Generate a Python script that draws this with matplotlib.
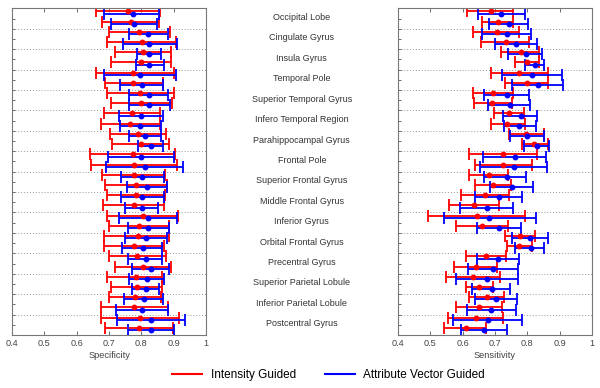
import matplotlib
matplotlib.use('Agg')
import matplotlib.pyplot as plt
import numpy as np

plt.rcParams['font.family'] = ['Liberation Sans', 'DejaVu Sans']

regions = ['Occipital Lobe', 'Cingulate Gyrus', 'Insula Gyrus', 'Temporal Pole',
           'Superior Temporal Gyrus', 'Infero Temporal Region', 'Parahippocampal Gyrus',
           'Frontal Pole', 'Superior Frontal Gyrus', 'Middle Frontal Gyrus',
           'Inferior Gyrus', 'Orbital Frontal Gyrus', 'Precentral Gyrus',
           'Superior Parietal Lobule', 'Inferior Parietal Lobule', 'Postcentral Gyrus']

# Specificity, two rows per region (low / mean / high)
spec_int_low = [0.659, 0.679, 0.699, 0.695, 0.720, 0.705, 0.659, 0.687, 0.693, 0.705, 0.685,
                0.675, 0.703, 0.709, 0.641, 0.644, 0.679, 0.687, 0.693, 0.682, 0.693, 0.699,
                0.685, 0.685, 0.701, 0.719, 0.693, 0.705, 0.700, 0.674, 0.674, 0.689]
spec_int_mean = [0.760, 0.768, 0.794, 0.802, 0.806, 0.799, 0.775, 0.775, 0.797, 0.800, 0.770,
                 0.765, 0.791, 0.799, 0.773, 0.776, 0.776, 0.784, 0.784, 0.777, 0.804, 0.794,
                 0.791, 0.777, 0.788, 0.806, 0.782, 0.786, 0.781, 0.778, 0.797, 0.794]
spec_int_high = [0.858, 0.855, 0.889, 0.907, 0.892, 0.893, 0.900, 0.868, 0.902, 0.894, 0.858,
                 0.858, 0.875, 0.886, 0.904, 0.911, 0.874, 0.879, 0.874, 0.871, 0.912, 0.887,
                 0.887, 0.870, 0.875, 0.892, 0.863, 0.864, 0.861, 0.884, 0.916, 0.899]
spec_att_low = [0.686, 0.705, 0.762, 0.742, 0.786, 0.782, 0.685, 0.735, 0.763, 0.763, 0.731,
                0.734, 0.762, 0.789, 0.697, 0.692, 0.736, 0.755, 0.736, 0.749, 0.730, 0.760,
                0.749, 0.741, 0.758, 0.771, 0.763, 0.772, 0.745, 0.721, 0.726, 0.760]
spec_att_mean = [0.773, 0.777, 0.821, 0.825, 0.824, 0.824, 0.797, 0.801, 0.823, 0.824, 0.799,
                 0.797, 0.812, 0.829, 0.798, 0.812, 0.802, 0.818, 0.803, 0.801, 0.820, 0.822,
                 0.814, 0.804, 0.813, 0.829, 0.818, 0.815, 0.808, 0.802, 0.831, 0.829]
spec_att_high = [0.856, 0.849, 0.882, 0.910, 0.862, 0.869, 0.908, 0.866, 0.881, 0.889, 0.866,
                 0.860, 0.861, 0.868, 0.901, 0.929, 0.869, 0.879, 0.871, 0.853, 0.911, 0.887,
                 0.878, 0.865, 0.865, 0.887, 0.869, 0.856, 0.868, 0.883, 0.935, 0.901]

# Sensitivity
sens_int_low = [0.615, 0.660, 0.633, 0.658, 0.719, 0.763, 0.688, 0.732, 0.631, 0.634, 0.697,
                0.687, 0.743, 0.784, 0.621, 0.638, 0.621, 0.637, 0.594, 0.558, 0.494, 0.581,
                0.731, 0.738, 0.609, 0.573, 0.548, 0.609, 0.621, 0.579, 0.556, 0.543]
sens_int_mean = [0.687, 0.708, 0.705, 0.734, 0.779, 0.798, 0.775, 0.798, 0.695, 0.692, 0.744,
                 0.738, 0.796, 0.822, 0.726, 0.726, 0.680, 0.693, 0.669, 0.635, 0.645, 0.661,
                 0.777, 0.774, 0.672, 0.640, 0.633, 0.652, 0.674, 0.652, 0.641, 0.609]
sens_int_high = [0.757, 0.757, 0.775, 0.806, 0.837, 0.835, 0.865, 0.865, 0.757, 0.752, 0.790,
                 0.793, 0.853, 0.863, 0.829, 0.813, 0.741, 0.749, 0.743, 0.713, 0.793, 0.739,
                 0.824, 0.813, 0.734, 0.705, 0.715, 0.693, 0.728, 0.723, 0.726, 0.672]
sens_att_low = [0.648, 0.680, 0.659, 0.699, 0.741, 0.793, 0.722, 0.752, 0.667, 0.679, 0.726,
                0.728, 0.748, 0.790, 0.662, 0.655, 0.667, 0.686, 0.637, 0.593, 0.541, 0.645,
                0.754, 0.762, 0.645, 0.617, 0.578, 0.628, 0.638, 0.612, 0.569, 0.595]
sens_att_mean = [0.719, 0.744, 0.736, 0.765, 0.796, 0.824, 0.814, 0.832, 0.736, 0.746, 0.779,
                 0.775, 0.800, 0.829, 0.762, 0.759, 0.738, 0.753, 0.711, 0.674, 0.683, 0.712,
                 0.808, 0.810, 0.710, 0.695, 0.676, 0.690, 0.702, 0.688, 0.679, 0.667]
sens_att_high = [0.793, 0.803, 0.810, 0.829, 0.846, 0.853, 0.906, 0.909, 0.806, 0.808, 0.831,
                 0.826, 0.853, 0.866, 0.858, 0.862, 0.796, 0.819, 0.785, 0.755, 0.826, 0.779,
                 0.863, 0.853, 0.775, 0.772, 0.772, 0.748, 0.767, 0.764, 0.785, 0.736]

n_rows = len(spec_int_mean)
rows = np.arange(n_rows)

fig = plt.figure(figsize=(6, 3.88), dpi=100)
ax_spec = fig.add_axes([0.02, 0.1366, 0.3233, 0.842])
ax_sens = fig.add_axes([0.6633, 0.1366, 0.3233, 0.842])


def draw_panel(ax, int_low, int_mean, int_high, att_low, att_mean, att_high, label):
    int_low, int_mean, int_high = np.array(int_low), np.array(int_mean), np.array(int_high)
    att_low, att_mean, att_high = np.array(att_low), np.array(att_mean), np.array(att_high)

    # dotted separators between regions
    for y in range(2, n_rows, 2):
        ax.axhline(y, color='#999999', linestyle=(0, (1, 2)), linewidth=0.7, zorder=0)

    ax.errorbar(int_mean, rows + 0.3, xerr=[int_mean - int_low, int_high - int_mean],
                fmt='o', color='#ff0000', ms=3.2, capsize=4, elinewidth=1.3, capthick=1.3)
    ax.errorbar(att_mean, rows + 0.52, xerr=[att_mean - att_low, att_high - att_mean],
                fmt='o', color='#0000ff', ms=3.2, capsize=4, elinewidth=1.3, capthick=1.3)

    ax.set_xlim(0.4, 1.0)
    ax.set_ylim(n_rows, 0)
    ax.set_xticks([0.4, 0.5, 0.6, 0.7, 0.8, 0.9, 1.0])
    ax.set_xticklabels(['0.4', '0.5', '0.6', '0.7', '0.8', '0.9', '1'])
    ax.set_yticks(range(1, n_rows))
    ax.set_yticklabels([])
    ax.tick_params(axis='x', direction='in', top=True, length=3, width=0.6,
                   labelsize=6.6, labelcolor='#444444', color='#555555', pad=3)
    ax.tick_params(axis='y', direction='in', length=2.5, width=0.6, color='#555555')
    ax.set_xlabel(label, fontsize=6.7, color='#444444', labelpad=2)
    for s in ax.spines.values():
        s.set_color('#777777')
        s.set_linewidth(0.8)


draw_panel(ax_spec, spec_int_low, spec_int_mean, spec_int_high,
           spec_att_low, spec_att_mean, spec_att_high, 'Specificity')
draw_panel(ax_sens, sens_int_low, sens_int_mean, sens_int_high,
           sens_att_low, sens_att_mean, sens_att_high, 'Sensitivity')

# region names in the gap between the two panels
for i, name in enumerate(regions):
    y_disp = ax_spec.transData.transform((0.4, 2 * i + 0.9))[1]
    y_fig = fig.transFigure.inverted().transform((0, y_disp))[1]
    fig.text(0.503, y_fig, name, ha='center', va='center', fontsize=6.5, color='#333333')

# legend
h1, = plt.plot([], [], color='#ff0000', linewidth=1.5)
h2, = plt.plot([], [], color='#0000ff', linewidth=1.5)
fig.legend([h1, h2], ['Intensity Guided', 'Attribute Vector Guided'], loc='center',
           bbox_to_anchor=(0.5475, 0.0335), ncol=2, frameon=False, fontsize=8.5,
           handlelength=2.55, columnspacing=2.45, handletextpad=0.7)

plt.savefig('out.png', dpi=100)
